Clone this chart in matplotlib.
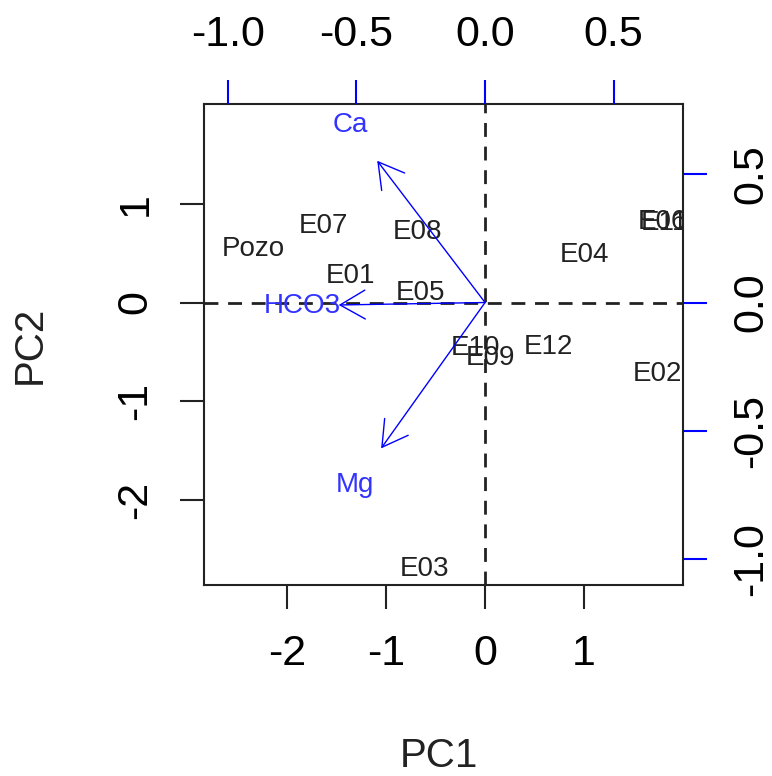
import matplotlib
matplotlib.use("Agg")
import matplotlib.pyplot as plt
import numpy as np

plt.rcParams['font.family'] = ['Liberation Sans', 'DejaVu Sans']
plt.rcParams['axes.unicode_minus'] = False

# scores (PC1, PC2)
sites = ["Pozo", "E07", "E08", "E01", "E05", "E04", "E06", "E11",
         "E10", "E09", "E12", "E02", "E03"]
pc1 = [-2.34, -1.63, -0.68, -1.36, -0.65, 1.00, 1.79, 1.81,
       -0.10, 0.05, 0.64, 1.74, -0.61]
pc2 = [0.54, 0.77, 0.71, 0.27, 0.10, 0.48, 0.82, 0.81,
       -0.46, -0.56, -0.455, -0.72, -2.70]

# loadings
variables = ["Ca", "HCO3", "Mg"]
load1 = [-0.524, -0.711, -0.505]
load2 = [0.69, -0.012, -0.71]

ratio = 2.6   # scores / loadings axis scale
xlim = (-2.84, 2.0)
ylim = (-2.86, 2.01)

fig = plt.figure(figsize=(7.72, 7.76), dpi=100)
pos = [204/772, 1-585/776, (683-204)/772, (585-104)/776]
ax = fig.add_axes(pos)
ax.set_xlim(xlim)
ax.set_ylim(ylim)
ax.set_xticks([-2, -1, 0, 1])
ax.set_yticks([-2, -1, 0, 1])
ax.tick_params(labelsize=31, length=17.5, width=1.5, pad=17.5, color='#222222')
for lab in ax.get_yticklabels():
    lab.set_rotation(90)
    lab.set_va('center')
for s in ax.spines.values():
    s.set_linewidth(1.5)
    s.set_color('#222222')

for name, x, y in zip(sites, pc1, pc2):
    ax.text(x, y, name, fontsize=20, ha='center', va='center', color='#222222', clip_on=True)

ax.set_xlabel("PC1", fontsize=29, color='#222222')
ax.xaxis.set_label_coords(0.49, (585-756)/481)
ax.xaxis.label.set_va('center')
ax.set_ylabel("PC2", fontsize=29, color='#222222')
ax.yaxis.set_label_coords((30-204)/479, 0.5)
ax.yaxis.label.set_va('center')

# loadings on secondary axes
ax2 = fig.add_axes(pos, frameon=False)
ax2.set_xlim(xlim[0]/ratio, xlim[1]/ratio)
ax2.set_ylim(ylim[0]/ratio, ylim[1]/ratio)
ax2.xaxis.tick_top()
ax2.yaxis.tick_right()
ax2.set_xticks([-1.0, -0.5, 0.0, 0.5])
ax2.set_yticks([-1.0, -0.5, 0.0, 0.5])
ax2.set_xticklabels(["-1.0", "-0.5", "0.0", "0.5"])
ax2.set_yticklabels(["-1.0", "-0.5", "0.0", "0.5"])
ax2.tick_params(labelsize=31, length=17.5, width=1.5, pad=17.5, color='#0000ff')
for lab in ax2.get_yticklabels():
    lab.set_rotation(90)
    lab.set_va('center')

for name, x, y in zip(variables, load1, load2):
    ax2.annotate("", xy=(0.8*x, 0.8*y), xytext=(0, 0),
                 arrowprops=dict(arrowstyle="->,head_length=0.45,head_width=0.26",
                                 color='#0000ff', lw=1.0, mutation_scale=40,
                                 shrinkA=0, shrinkB=0))
    ax2.text(x, y, name, fontsize=20, ha='center', va='center', color='#3333ff')

ax2.axhline(0, color='#222222', ls=(0, (5, 3.5)), lw=2)
ax2.axvline(0, color='#222222', ls=(0, (5, 3.5)), lw=2)

fig.savefig("out.png", dpi=100)
